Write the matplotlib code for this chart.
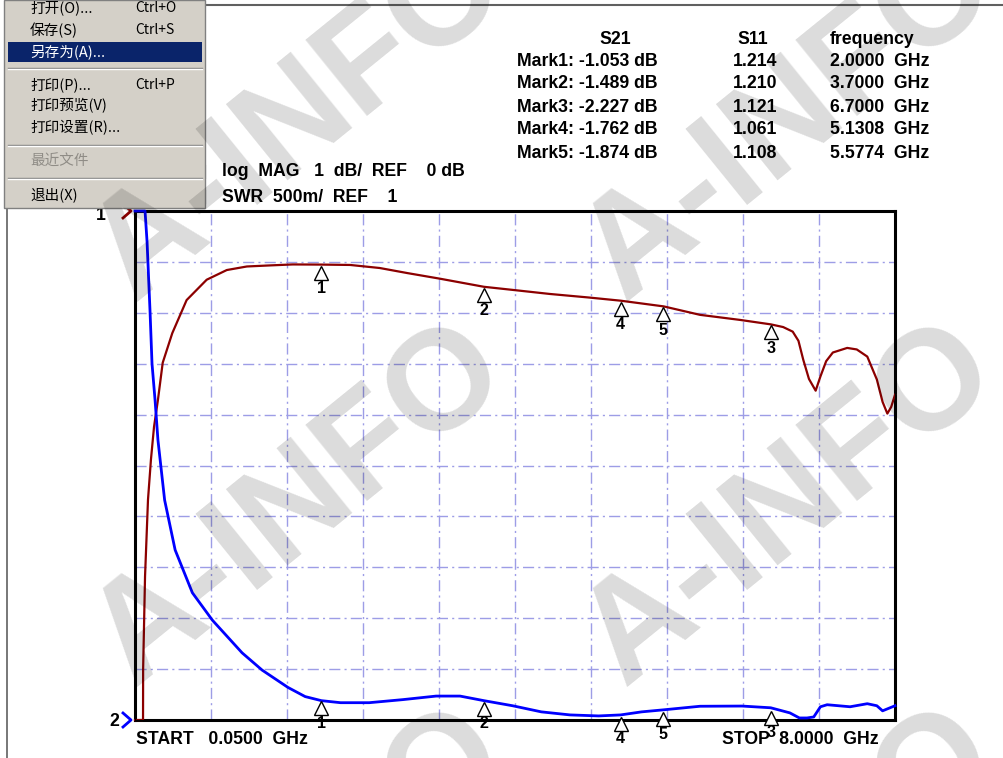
import numpy as np
import matplotlib.pyplot as plt
from matplotlib.patches import Rectangle
from matplotlib.lines import Line2D
from matplotlib.transforms import offset_copy

# S21 trace (GHz, dB)
s21_f = [0.05, 0.10, 0.134, 0.135, 0.155, 0.186, 0.217, 0.249, 0.29, 0.34, 0.44,
         0.59, 0.80, 1.01, 1.22, 1.45, 1.70, 2.00, 2.30, 2.61, 2.90, 3.24, 3.70,
         4.00, 4.39, 4.80, 5.13, 5.58, 5.96, 6.38, 6.70, 6.83, 6.93, 6.99, 7.04,
         7.10, 7.17, 7.22, 7.28, 7.35, 7.50, 7.60, 7.71, 7.81, 7.87, 7.92, 7.96, 8.00]
s21_db = [-10, -10, -10, -9.0, -7.18, -5.67, -4.88, -4.24, -3.71, -2.98, -2.40,
          -1.75, -1.35, -1.16, -1.09, -1.07, -1.05, -1.053, -1.06, -1.12, -1.22, -1.33, -1.489,
          -1.55, -1.63, -1.70, -1.762, -1.874, -2.04, -2.14, -2.227, -2.28, -2.37, -2.55, -2.92,
          -3.30, -3.53, -3.25, -2.95, -2.78, -2.69, -2.72, -2.86, -3.31, -3.75, -3.98, -3.85, -3.61]

# S11 trace (GHz, SWR)
s11_f = [0.05, 0.155, 0.176, 0.207, 0.228, 0.26, 0.29, 0.36, 0.47, 0.65, 0.86,
         1.17, 1.38, 1.65, 1.83, 2.00, 2.20, 2.50, 2.85, 3.20, 3.45, 3.70, 4.00,
         4.30, 4.60, 4.90, 5.13, 5.35, 5.58, 5.96, 6.40, 6.70, 6.90, 7.00, 7.08,
         7.15, 7.22, 7.29, 7.53, 7.71, 7.81, 7.87, 8.00]
s11_swr = [6.0, 6.0, 5.7, 5.02, 4.5, 4.14, 3.75, 3.16, 2.67, 2.25, 1.98,
           1.66, 1.49, 1.32, 1.23, 1.19, 1.17, 1.17, 1.20, 1.235, 1.235, 1.19, 1.14,
           1.08, 1.05, 1.04, 1.05, 1.08, 1.10, 1.135, 1.137, 1.12, 1.07, 1.02, 1.02,
           1.03, 1.13, 1.15, 1.13, 1.16, 1.14, 1.09, 1.14]

# markers
mk_names = ['Mark1', 'Mark2', 'Mark3', 'Mark4', 'Mark5']
mk_f = [2.0, 3.7, 6.7, 5.1308, 5.5774]
mk_s21 = [-1.053, -1.489, -2.227, -1.762, -1.874]
mk_s11 = [1.214, 1.210, 1.121, 1.061, 1.108]

menu_items = ['打开(O)...', '保存(S)', '另存为(A)...', '打印(P)...', '打印预览(V)', '打印设置(R)...', '最近文件', '退出(X)']
menu_keys = ['Ctrl+O', 'Ctrl+S', '', 'Ctrl+P', '', '', '', '']

W, H = 1004, 758
fig = plt.figure(figsize=(W / 100, H / 100), dpi=100)
fig.patch.set_facecolor('white')

def fx(x):
    return x / W

def fy(y):
    return 1 - y / H

ax = fig.add_axes([fx(135), fy(720), 760 / W, 509 / H])
ax.set_xlim(0.05, 8)
ax.set_ylim(-10, 0)
ax.set_xticks(np.linspace(0.05, 8, 11))
ax.set_yticks(np.linspace(-10, 0, 11))
ax.tick_params(length=0, labelbottom=False, labelleft=False)
ax.grid(True, color='#9d9de6', lw=1, linestyle=(0, (8, 3, 1.5, 3)))
for s in ax.spines.values():
    s.set_linewidth(2.2)
    s.set_color('black')
ax.plot(s21_f, s21_db, color='#8c0000', lw=1.6, clip_on=False, zorder=3)

ax2 = ax.twinx()
ax2.set_ylim(1, 6)
ax2.set_yticks([])
ax2.tick_params(length=0, labelright=False)
ax2.plot(s11_f, s11_swr, color='#0000ff', lw=2.0, clip_on=False, zorder=3)

# marker triangles and numbers
tr1 = offset_copy(ax.transData, fig=fig, x=0, y=-8, units='dots')
ax.plot(mk_f, mk_s21, ls='none', marker='^', ms=9.5, mfc='white', mec='black',
        mew=1, transform=tr1, clip_on=False, zorder=6)
tr2 = offset_copy(ax2.transData, fig=fig, x=0, y=-10, units='dots')
ax2.plot(mk_f, mk_s11, ls='none', marker='^', ms=9.5, mfc='white', mec='black',
         mew=1, transform=tr2, clip_on=False, zorder=6)
for i in range(len(mk_f)):
    ax.annotate(str(i + 1), (mk_f[i], mk_s21[i]), xytext=(0, -24), textcoords='offset pixels',
                ha='center', va='center', fontsize=11.5, fontweight='bold', family='Liberation Sans')
    ax2.annotate(str(i + 1), (mk_f[i], mk_s11[i]), xytext=(0, -25), textcoords='offset pixels',
                 ha='center', va='center', fontsize=11.5, fontweight='bold', family='Liberation Sans',
                 annotation_clip=False)

tk = dict(family='Liberation Sans', fontweight='bold', fontsize=12.7, va='center')

# marker table
fig.text(fx(615), fy(39), 'S21', ha='center', **tk)
fig.text(fx(753), fy(39), 'S11', ha='center', **tk)
fig.text(fx(872), fy(39), 'frequency', ha='center', **tk)
for i in range(len(mk_f)):
    y = 61 + 23 * i
    fig.text(fx(517), fy(y), '%s: %.3f dB' % (mk_names[i], mk_s21[i]), ha='left', **tk)
    fig.text(fx(733), fy(y), '%.3f' % mk_s11[i], ha='left', **tk)
    fig.text(fx(830), fy(y), '%.4f  GHz' % mk_f[i], ha='left', **tk)

fig.text(fx(222), fy(172), 'log  MAG   1  dB/  REF    0 dB', ha='left', **tk)
fig.text(fx(222), fy(197), 'SWR  500m/  REF    1', ha='left', **tk)
fig.text(fx(136), fy(739), 'START   0.0500  GHz', ha='left', **tk)
fig.text(fx(722), fy(739), 'STOP  8.0000  GHz', ha='left', **tk)

# channel reference markers
fig.text(fx(114), fy(722), '2', ha='center', **tk)
fig.add_artist(Line2D([fx(123), fx(131), fx(123)], [fy(713), fy(720), fy(727)],
                      color='#0000ff', lw=2))
fig.text(fx(101), fy(216), '1', ha='center', **tk)
fig.add_artist(Line2D([fx(123), fx(131), fx(123)], [fy(204), fy(211), fy(218)],
                      color='#8c0000', lw=2))
fig.add_artist(Line2D([fx(205), fx(205)], [fy(166), fy(178)], color='black', lw=1.5))
fig.add_artist(Line2D([fx(205), fx(205)], [fy(191), fy(203)], color='black', lw=1.5))

# window frame
fig.add_artist(Line2D([fx(205), fx(1004)], [fy(5), fy(5)], color='#606060', lw=1.5))
fig.add_artist(Line2D([fx(7), fx(7)], [fy(208), fy(758)], color='#606060', lw=1.2))

# file menu
fig.add_artist(Rectangle((fx(4), fy(208)), 201 / W, 208 / H, facecolor='#d4d0c8',
                         edgecolor='#808080', lw=1, zorder=10))
fig.add_artist(Rectangle((fx(8), fy(62)), 194 / W, 20 / H, facecolor='#0a246a',
                         edgecolor='none', zorder=11))
for ys in [68, 145, 178]:
    fig.add_artist(Line2D([fx(8), fx(202)], [fy(ys), fy(ys)], color='#808080', lw=1, zorder=11))
    fig.add_artist(Line2D([fx(8), fx(202)], [fy(ys + 1), fy(ys + 1)], color='white', lw=1, zorder=11))
menu_y = [8, 30, 52, 85, 106, 128, 162, 195]
for i in range(len(menu_items)):
    col = 'black'
    if i == 2:
        col = 'white'
    if i == 6:
        col = '#8f8c86'
    fig.text(fx(30), fy(menu_y[i]), menu_items[i], family=['Noto Sans CJK SC', 'DejaVu Sans'],
             fontsize=10.5, color=col, va='center', ha='left', zorder=12)
    if menu_keys[i]:
        fig.text(fx(135), fy(menu_y[i]), menu_keys[i], family=['Noto Sans CJK SC', 'DejaVu Sans'],
                 fontsize=10, color='black', va='center', ha='left', zorder=12)

# watermark
for cx in [-190, 300, 790]:
    for cy in [120, 505, 890]:
        fig.text(fx(cx), fy(cy), 'A-INFO', family='Liberation Sans', fontsize=102,
                 fontweight='bold', rotation=39, rotation_mode='anchor', ha='center',
                 va='center', color='black', alpha=0.14, zorder=20)

fig.savefig('out.png', dpi=100)
